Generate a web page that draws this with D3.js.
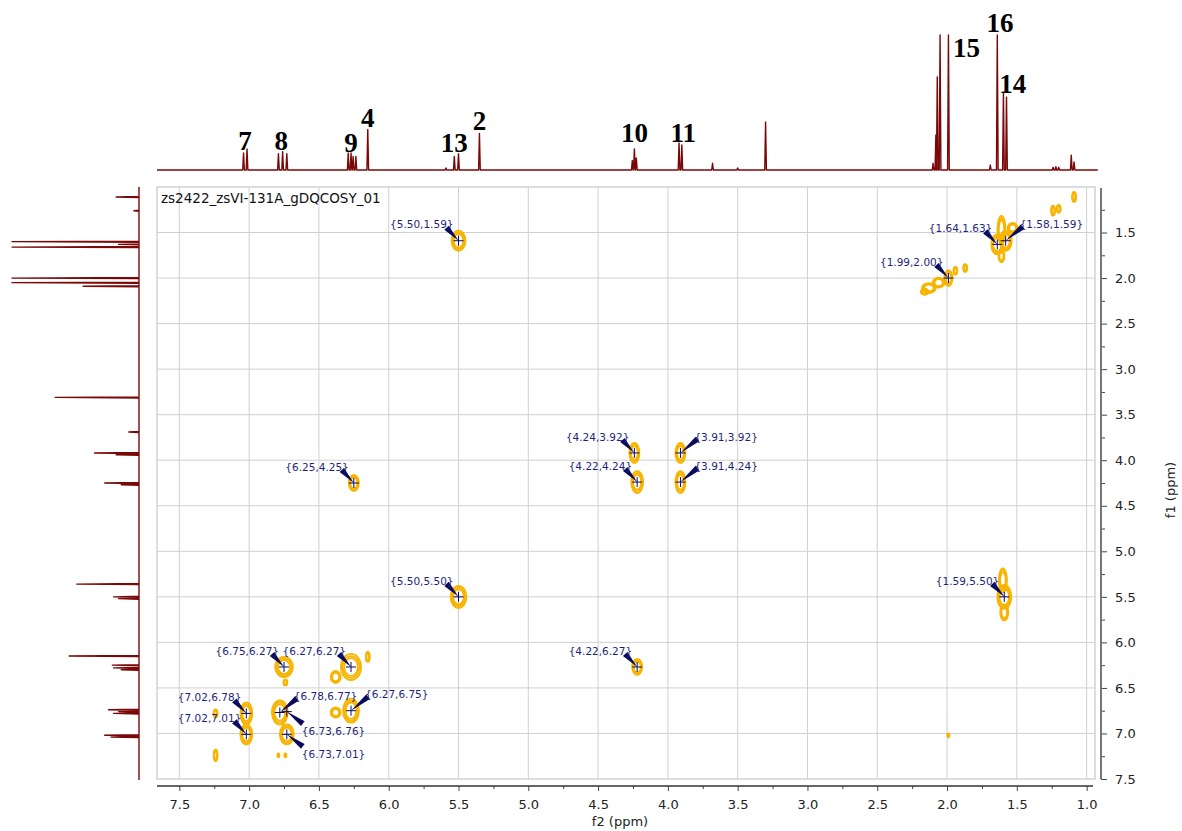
<!DOCTYPE html>
<html>
<head>
<meta charset="utf-8">
<script src="https://cdn.jsdelivr.net/npm/d3@7"></script>
<style>
  body { margin: 0; background: #fff; }
</style>
</head>
<body>
<div id="chart"></div>
<script>
// 1D projection on top (f2): peak ppm and height (100 = clipped at window top)
const topPpm = [7.04, 7.015, 6.79, 6.76, 6.73, 6.29, 6.27, 6.255, 6.235, 6.15, 5.59, 5.53, 5.50, 5.35,
  4.255, 4.24, 4.226, 3.92, 3.90, 3.68, 3.50, 3.30, 2.10, 2.08, 2.07, 2.05, 1.99, 1.69, 1.64,
  1.596, 1.574, 1.24, 1.22, 1.20, 1.11, 1.09];
const topInt = [12.6, 15.6, 12, 13.5, 12, 12.6, 12.6, 10, 10, 30, 1.5, 10, 12, 27,
  7, 15.6, 9, 20, 18.5, 5, 1.5, 35.5, 5, 26, 69, 100, 100, 3.7, 100,
  57, 54, 2, 2.5, 2, 11, 6];

// 1D projection on the left (f1)
const leftPpm = [1.11, 1.26, 1.60, 1.63, 1.66, 2.00, 2.05, 2.09, 3.31, 3.69, 3.92, 3.94, 4.25, 4.27,
  5.36, 5.50, 5.52, 6.15, 6.25, 6.28, 6.30, 6.74, 6.76, 6.78, 7.02, 7.04];
const leftInt = [18, 4, 100, 16, 100, 100, 100, 44, 66, 8, 35, 18, 27, 14,
  49, 20, 16, 55, 21, 20, 14, 24, 16, 20, 27, 22];

// assignment numbers over the top trace
const assignLabels = ["7", "8", "9", "4", "13", "2", "10", "11", "15", "16", "14"];
const assignPpm = [7.03, 6.77, 6.27, 6.15, 5.53, 5.35, 4.24, 3.89, 1.86, 1.62, 1.53];
const assignLevel = [22, 22, 20.7, 38.5, 20.7, 37, 27.4, 28.1, 91, 109, 64.4];

// picked cross peaks {f2,f1}
const crossF2 = [5.50, 1.64, 1.58, 1.99, 6.25, 4.24, 4.22, 3.91, 3.91, 5.50, 1.59, 4.22, 6.75, 6.27, 7.02, 7.02, 6.78, 6.73, 6.73, 6.27];
const crossF1 = [1.59, 1.63, 1.59, 2.00, 4.25, 3.92, 4.24, 3.92, 4.24, 5.50, 5.50, 6.27, 6.27, 6.27, 6.78, 7.01, 6.77, 6.76, 7.01, 6.75];
const crossSide = ["ul", "ul", "ur", "ul", "ul", "ul", "ul", "ur", "ur", "ul", "ul", "ul", "ul", "ul", "ul", "ul", "ur", "dr", "dr", "ur"];

// contour spots: centre (f2,f1) and half widths in ppm
const spotF2 = [5.50, 1.64, 1.58, 1.61, 1.53, 1.61, 1.09, 1.24, 1.20, 1.99, 2.06, 2.13, 2.16, 1.94, 1.87,
  6.25, 4.24, 4.22, 3.91, 3.91, 5.50, 1.59, 1.60, 1.59, 4.22, 6.75, 6.27, 6.38, 6.15,
  7.02, 7.02, 6.78, 6.73, 6.27, 6.38, 7.24, 7.24, 6.79, 6.74, 1.99, 6.74];
const spotF1 = [1.59, 1.63, 1.59, 1.47, 1.45, 1.76, 1.11, 1.26, 1.24, 2.00, 2.05, 2.11, 2.15, 1.92, 1.89,
  4.25, 3.92, 4.24, 3.92, 4.24, 5.50, 5.50, 5.32, 5.67, 6.27, 6.27, 6.27, 6.38, 6.16,
  6.78, 7.01, 6.77, 7.01, 6.75, 6.77, 7.24, 6.78, 7.24, 7.24, 7.02, 6.44];
const spotRx = [0.050, 0.043, 0.043, 0.029, 0.036, 0.021, 0.014, 0.014, 0.014, 0.029, 0.043, 0.050, 0.029, 0.014, 0.014,
  0.036, 0.036, 0.043, 0.036, 0.036, 0.057, 0.050, 0.029, 0.029, 0.036, 0.064, 0.072, 0.036, 0.014,
  0.043, 0.043, 0.057, 0.050, 0.057, 0.036, 0.014, 0.014, 0.007, 0.007, 0.007, 0.014];
const spotRy = [0.110, 0.110, 0.110, 0.154, 0.055, 0.066, 0.055, 0.055, 0.044, 0.088, 0.055, 0.055, 0.033, 0.044, 0.044,
  0.088, 0.110, 0.121, 0.110, 0.121, 0.121, 0.132, 0.132, 0.088, 0.088, 0.110, 0.143, 0.066, 0.055,
  0.121, 0.110, 0.132, 0.110, 0.132, 0.055, 0.066, 0.044, 0.022, 0.022, 0.022, 0.033];

const f2Ticks = [7.5, 7.0, 6.5, 6.0, 5.5, 5.0, 4.5, 4.0, 3.5, 3.0, 2.5, 2.0, 1.5, 1.0];
const f2Minor = [7.25, 6.75, 6.25, 5.75, 5.25, 4.75, 4.25, 3.75, 3.25, 2.75, 2.25, 1.75, 1.25];
const f1Ticks = [1.5, 2.0, 2.5, 3.0, 3.5, 4.0, 4.5, 5.0, 5.5, 6.0, 6.5, 7.0, 7.5];
const f1Minor = [1.25, 1.75, 2.25, 2.75, 3.25, 3.75, 4.25, 4.75, 5.25, 5.75, 6.25, 6.75, 7.25];

const title = "zs2422_zsVI-131A_gDQCOSY_01";

const width = 1182;
const height = 831;
const plot = { left: 157, right: 1095, top: 187, bottom: 779 };
const specRed = "#7a0808";
const gold = "#f7b400";
const navy = "#1f1f7a";
const font = "'DejaVu Sans', Verdana, sans-serif";

const svg = d3.select("#chart").append("svg")
  .attr("width", width)
  .attr("height", height)
  .attr("viewBox", [0, 0, width, height]);

const x = d3.scaleLinear().domain([7.66, 0.94]).range([plot.left, plot.right]);
const y = d3.scaleLinear().domain([1.0, 7.5]).range([plot.top, plot.bottom]);
const yTop = d3.scaleLinear().domain([0, 100]).range([170, 35]);
const xLeft = d3.scaleLinear().domain([0, 100]).range([139, 12]);

// frame and grid
svg.append("rect")
  .attr("x", plot.left).attr("y", plot.top)
  .attr("width", plot.right - plot.left).attr("height", plot.bottom - plot.top)
  .attr("fill", "none").attr("stroke", "#d2d2d2").attr("stroke-width", 1.5);

svg.append("g").selectAll("line")
  .data(f2Ticks)
  .join("line")
    .attr("x1", d => x(d)).attr("x2", d => x(d))
    .attr("y1", plot.top).attr("y2", plot.bottom)
    .attr("stroke", "#d0d0d0");

svg.append("g").selectAll("line")
  .data(f1Ticks.filter(d => d < 7.5))
  .join("line")
    .attr("x1", plot.left).attr("x2", plot.right)
    .attr("y1", d => y(d)).attr("y2", d => y(d))
    .attr("stroke", "#d0d0d0");

// 1D traces built from the peak lists
function traceOf(ppm, inten, start, end, w) {
  const pk = ppm.map((p, i) => [p, inten[i]]).sort((a, b) => b[0] - a[0]);
  const pts = [[start, 0]];
  pk.forEach(([p, h]) => { pts.push([p + w, 0], [p, h], [p - w, 0]); });
  pts.push([end, 0]);
  return pts;
}

svg.append("path")
  .datum(traceOf(topPpm, topInt, 7.66, 0.92, 0.006))
  .attr("fill", "none")
  .attr("stroke", specRed)
  .attr("stroke-width", 1.4)
  .attr("stroke-linejoin", "round")
  .attr("d", d3.line().x(d => x(d[0])).y(d => yTop(d[1])));

svg.append("path")
  .datum(traceOf(leftPpm, leftInt, 1.0, 7.51, 0.006))
  .attr("fill", "none")
  .attr("stroke", specRed)
  .attr("stroke-width", 1.4)
  .attr("stroke-linejoin", "round")
  .attr("d", d3.line().x(d => xLeft(d[1])).y(d => y(d[0])));

// assignment numbers
svg.append("g").selectAll("text")
  .data(assignLabels)
  .join("text")
    .attr("x", (d, i) => x(assignPpm[i]))
    .attr("y", (d, i) => yTop(assignLevel[i]))
    .attr("dy", "0.35em")
    .attr("text-anchor", "middle")
    .attr("font-family", "'Liberation Serif', 'Times New Roman', serif")
    .attr("font-weight", "bold")
    .attr("font-size", 27)
    .attr("fill", "#000")
    .text(d => d);

// contour spots
const ringScale = [1, 0.84, 0.68];
const spots = spotF2.map((f2, i) => ({ f2, f1: spotF1[i], rx: spotRx[i], ry: spotRy[i] }));
const cg = svg.append("g").attr("fill", "none").attr("stroke", gold).attr("stroke-width", 1.8);
spots.forEach(s => {
  const rxp = Math.abs(x(s.f2 + s.rx) - x(s.f2));
  const ryp = Math.abs(y(s.f1 + s.ry) - y(s.f1));
  cg.append("g").selectAll("ellipse")
    .data(ringScale)
    .join("ellipse")
      .attr("cx", x(s.f2))
      .attr("cy", y(s.f1))
      .attr("rx", k => Math.max(rxp * k, 0.6))
      .attr("ry", k => Math.max(ryp * k, 0.6));
});

// picked cross peaks: label, arrow and cross
const crosses = crossF2.map((f2, i) => ({
  f2, f1: crossF1[i], side: crossSide[i],
  label: `{${f2.toFixed(2)},${crossF1[i].toFixed(2)}}`
}));

const place = {
  ul: { tx: -5, ty: -16, anchor: "end", ax: -12, ay: -13 },
  ur: { tx: 14, ty: -16, anchor: "start", ax: 17, ay: -14 },
  dr: { tx: 15, ty: 20, anchor: "start", ax: 16, ay: 12 }
};

const pg = svg.append("g");
crosses.forEach(c => {
  const px = x(c.f2), py = y(c.f1);
  const p = place[c.side];
  const bx = px + p.ax, by = py + p.ay;
  const len = Math.hypot(px - bx, py - by);
  const nx = -(py - by) / len * 3, ny = (px - bx) / len * 3;
  pg.append("path")
    .attr("d", d3.line()([[bx + nx, by + ny], [px, py], [bx - nx, by - ny]]) + "Z")
    .attr("fill", "#0b0b5c");
  pg.append("path")
    .attr("d", `M${px - 5},${py}H${px + 5}M${px},${py - 5}V${py + 5}`)
    .attr("stroke", "#0b0b5c").attr("stroke-width", 1);
  pg.append("text")
    .attr("x", px + p.tx)
    .attr("y", py + p.ty)
    .attr("dy", "0.35em")
    .attr("text-anchor", p.anchor)
    .attr("font-family", font)
    .attr("font-size", 10.5)
    .attr("fill", navy)
    .text(c.label);
});

// spectrum title
svg.append("text")
  .attr("x", 161).attr("y", 203)
  .attr("font-family", font)
  .attr("font-size", 13.5)
  .attr("fill", "#111")
  .text(title);

// axes
function styleAxis(g) {
  g.selectAll(".domain").remove();
  g.selectAll(".tick line").attr("stroke", "#444");
  g.selectAll(".tick text")
    .attr("font-family", font)
    .attr("font-size", 13)
    .attr("fill", "#222");
}

const xAxis = svg.append("g").attr("transform", "translate(0,786)");
xAxis.append("g")
  .call(d3.axisBottom(x).tickValues(f2Ticks).tickSize(5).tickPadding(9).tickFormat(d3.format(".1f")))
  .call(styleAxis);
xAxis.append("g")
  .call(d3.axisBottom(x).tickValues(f2Minor).tickSize(3).tickFormat(""))
  .call(styleAxis);
xAxis.append("line")
  .attr("x1", plot.left).attr("x2", 1093)
  .attr("stroke", "#333").attr("stroke-width", 1.5);

const yAxis = svg.append("g").attr("transform", "translate(1101,0)");
yAxis.append("g")
  .call(d3.axisRight(y).tickValues(f1Ticks).tickSize(6).tickPadding(8).tickFormat(d3.format(".1f")))
  .call(styleAxis);
yAxis.append("g")
  .call(d3.axisRight(y).tickValues(f1Minor).tickSize(4).tickFormat(""))
  .call(styleAxis);
yAxis.append("line")
  .attr("y1", plot.top + 1).attr("y2", plot.bottom)
  .attr("stroke", "#777").attr("stroke-width", 2);

svg.append("text")
  .attr("x", 620).attr("y", 826)
  .attr("text-anchor", "middle")
  .attr("font-family", font)
  .attr("font-size", 13)
  .attr("fill", "#222")
  .text("f2 (ppm)");

svg.append("text")
  .attr("transform", "translate(1170,490) rotate(-90)")
  .attr("text-anchor", "middle")
  .attr("dy", "0.35em")
  .attr("font-family", font)
  .attr("font-size", 13)
  .attr("fill", "#222")
  .text("f1 (ppm)");
</script>
</body>
</html>
